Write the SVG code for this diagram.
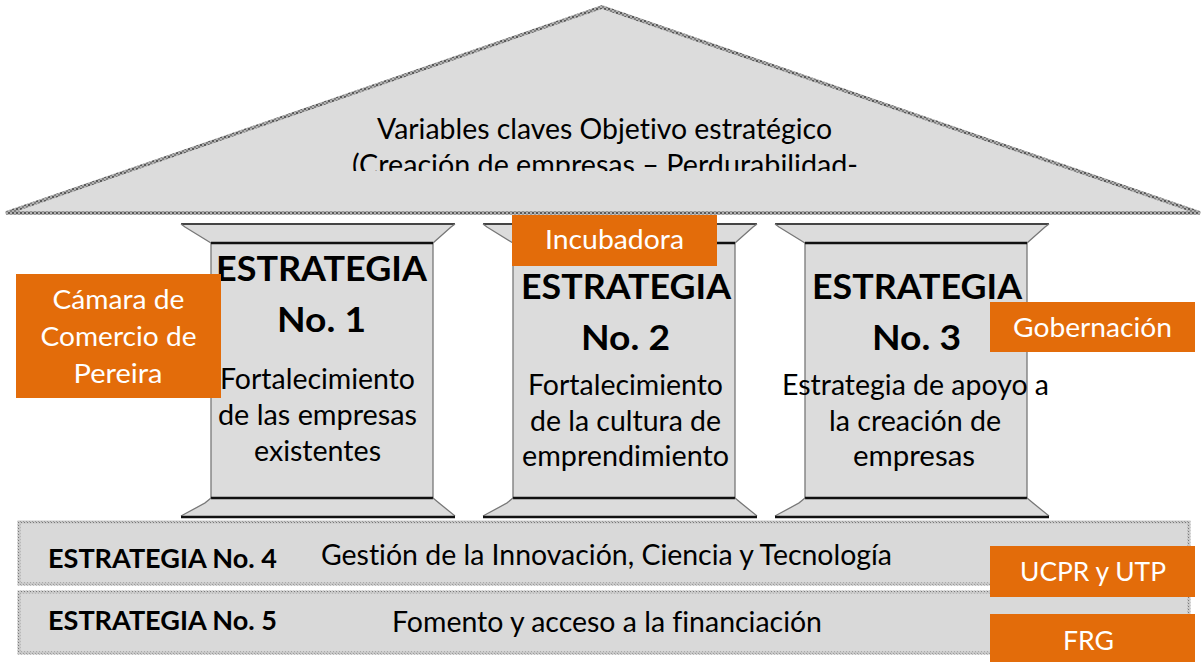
<svg xmlns="http://www.w3.org/2000/svg" xmlns:xlink="http://www.w3.org/1999/xlink" width="1204" height="662" viewBox="0 0 1204 662">
<style>
.t{font-family:Lato,"Liberation Sans",Arial,sans-serif;fill:#000;text-anchor:middle;font-variant-ligatures:none}
.s{text-anchor:start}
.b{font-weight:bold}
.w{fill:#fff}
.or{fill:#E36C0A}
.roofT{font-size:28px}
.pb{font-size:34px}
.pr{font-size:29px}
.ot{font-size:27.5px}
.st{font-size:28.5px}
.sb{font-size:27px}
.edge{stroke:#444;stroke-width:2;fill:none}
.side{stroke:#777;stroke-width:1.3;fill:none}
.heavy{stroke:#111;stroke-width:2.6;fill:none}
.gfill{fill:#dcdcdc}
</style>
<defs>
<pattern id="pRoof" width="4" height="4" patternUnits="userSpaceOnUse">
<rect width="4" height="4" fill="#b0b0b0"/>
<rect width="2" height="2" fill="#5a5a5a"/>
<rect x="2" y="2" width="2" height="2" fill="#7e7e7e"/>
</pattern>
<pattern id="pStrip" width="3" height="3" patternUnits="userSpaceOnUse">
<rect width="3" height="3" fill="#c8c8c8"/>
<rect width="1" height="1" fill="#7a7a7a"/>
<rect x="2" y="2" width="1" height="1" fill="#9a9a9a"/>
</pattern>
<clipPath id="roofClip"><rect x="0" y="0" width="1204" height="171"/></clipPath>
<g id="pillarShape">
<path class="gfill" d="M0,224 L274,224 L252,243 L30,243 Z"/>
<rect class="gfill" x="30" y="243" width="222" height="255"/>
<path class="gfill" d="M30,498 L252,498 L274,517 L0,517 Z"/>
<line class="edge" x1="0" y1="224" x2="274" y2="224"/>
<path class="side" d="M0,224 L4,227 L30,243 M274,224 L270,227 L252,243"/>
<line class="side" x1="30" y1="243" x2="30" y2="498"/>
<line class="side" x1="252" y1="243" x2="252" y2="498"/>
<line class="heavy" x1="30" y1="243" x2="252" y2="243"/>
<line class="heavy" x1="30" y1="498" x2="252" y2="498"/>
<path class="side" d="M30,498 L24,503 L0,516 M252,498 L258,503 L274,516"/>
<line class="heavy" x1="0" y1="517" x2="274" y2="517"/>
</g>
</defs>
<rect width="1204" height="662" fill="#fff"/>

<g id="roof">
<polygon points="6,213 602,7 1200,213" fill="#dcdcdc" stroke="url(#pRoof)" stroke-width="3.5" stroke-linejoin="bevel"/>
<text class="t roofT" x="604.5" y="139" textLength="455" lengthAdjust="spacingAndGlyphs">Variables claves Objetivo estratégico</text>
<g clip-path="url(#roofClip)">
<text class="t roofT" x="605" y="175" textLength="506" lengthAdjust="spacingAndGlyphs">(Creación de empresas – Perdurabilidad-</text>
</g>
</g>

<g id="pillar1">
<use xlink:href="#pillarShape" transform="translate(181,0)"/>
<text class="t b pb" x="321.5" y="281" textLength="211" lengthAdjust="spacingAndGlyphs">ESTRATEGIA</text>
<text class="t b pb" x="321.5" y="332" textLength="89" lengthAdjust="spacingAndGlyphs">No. 1</text>
<text class="t pr" x="317.5" y="389" textLength="195" lengthAdjust="spacingAndGlyphs">Fortalecimiento</text>
<text class="t pr" x="317.5" y="425" textLength="199" lengthAdjust="spacingAndGlyphs">de las empresas</text>
<text class="t pr" x="317.5" y="461" textLength="127" lengthAdjust="spacingAndGlyphs">existentes</text>
</g>

<g id="pillar2">
<use xlink:href="#pillarShape" transform="translate(483,0)"/>
<text class="t b pb" x="626" y="299" textLength="210" lengthAdjust="spacingAndGlyphs">ESTRATEGIA</text>
<text class="t b pb" x="625.5" y="350" textLength="89" lengthAdjust="spacingAndGlyphs">No. 2</text>
<text class="t pr" x="625.5" y="395" textLength="195" lengthAdjust="spacingAndGlyphs">Fortalecimiento</text>
<text class="t pr" x="625.5" y="431" textLength="191" lengthAdjust="spacingAndGlyphs">de la cultura de</text>
<text class="t pr" x="625.5" y="466" textLength="207" lengthAdjust="spacingAndGlyphs">emprendimiento</text>
</g>

<g id="pillar3">
<use xlink:href="#pillarShape" transform="translate(775,0)"/>
<text class="t b pb" x="917" y="299" textLength="210" lengthAdjust="spacingAndGlyphs">ESTRATEGIA</text>
<text class="t b pb" x="916.5" y="350" textLength="89" lengthAdjust="spacingAndGlyphs">No. 3</text>
<text class="t pr" x="915.5" y="395" textLength="267" lengthAdjust="spacingAndGlyphs">Estrategia de apoyo a</text>
<text class="t pr" x="915" y="431" textLength="172" lengthAdjust="spacingAndGlyphs">la creación de</text>
<text class="t pr" x="914" y="466" textLength="122" lengthAdjust="spacingAndGlyphs">empresas</text>
</g>

<g id="strategy4">
<rect x="19" y="522" width="1170" height="62" fill="#d9d9d9" stroke="url(#pStrip)" stroke-width="3"/>
<text class="t s b sb" x="48" y="568" textLength="229" lengthAdjust="spacingAndGlyphs">ESTRATEGIA No. 4</text>
<text class="t st" x="606.5" y="565" textLength="571" lengthAdjust="spacingAndGlyphs">Gestión de la Innovación, Ciencia y Tecnología</text>
</g>

<g id="strategy5">
<rect x="19" y="592" width="1170" height="61" fill="#d9d9d9" stroke="url(#pStrip)" stroke-width="3"/>
<text class="t s b sb" x="48" y="630" textLength="229" lengthAdjust="spacingAndGlyphs">ESTRATEGIA No. 5</text>
<text class="t st" x="607" y="632" textLength="430" lengthAdjust="spacingAndGlyphs">Fomento y acceso a la financiación</text>
</g>

<g id="connectors"></g>

<g id="camara">
<rect class="or" x="16" y="274" width="205" height="124"/>
<text class="t w ot" x="118.5" y="309" textLength="132" lengthAdjust="spacingAndGlyphs">Cámara de</text>
<text class="t w ot" x="118.5" y="346" textLength="156" lengthAdjust="spacingAndGlyphs">Comercio de</text>
<text class="t w ot" x="118" y="383" textLength="89" lengthAdjust="spacingAndGlyphs">Pereira</text>
</g>

<g id="incubadora">
<rect class="or" x="512" y="215" width="205" height="51"/>
<text class="t w ot" x="614.5" y="249" textLength="139" lengthAdjust="spacingAndGlyphs">Incubadora</text>
</g>

<g id="gobernacion">
<rect class="or" x="990" y="302" width="205" height="50"/>
<text class="t w ot" x="1092.5" y="337" textLength="159" lengthAdjust="spacingAndGlyphs">Gobernación</text>
</g>

<g id="ucpr">
<rect class="or" x="990" y="546" width="205" height="51"/>
<text class="t w ot" x="1093" y="581" textLength="146" lengthAdjust="spacingAndGlyphs">UCPR y UTP</text>
</g>

<g id="frg">
<rect class="or" x="990" y="614" width="205" height="48"/>
<text class="t w ot" x="1088.5" y="650" textLength="51" lengthAdjust="spacingAndGlyphs">FRG</text>
</g>
</svg>
